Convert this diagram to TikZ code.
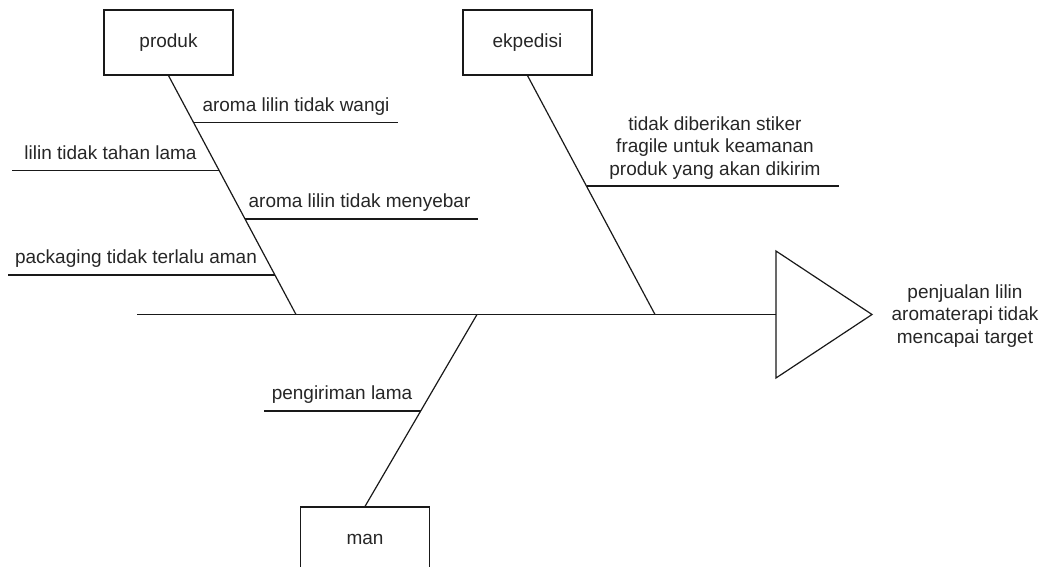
\documentclass[tikz,border=0pt]{standalone}
\usepackage{fontspec}
\setmainfont{Liberation Sans}
\begin{document}
\begin{tikzpicture}[x=1pt,y=-1pt,
  bone/.style={draw=black!90,line width=1.2pt},
  catbox/.style={draw=black!90,line width=1.2pt,minimum width=129pt,minimum height=65pt,inner sep=0pt,font=\fontsize{19}{22}\selectfont,text=black!85},
  cause/.style={font=\fontsize{19}{22}\selectfont,text=black!85,anchor=base,inner sep=0pt},
  multi/.style={font=\fontsize{19}{22.5}\selectfont,text=black!85,align=center,inner sep=0pt}]
\useasboundingbox (0,0) rectangle (1045,567);
% category boxes
\node[catbox] (produk) at (168.5,42.5) {produk};
\node[catbox] (ekpedisi) at (527.5,42.5) {ekpedisi};
\node[catbox] (man) at (365,539.5) {man};
% head triangle
\coordinate (tA) at (776,251);
\coordinate (tB) at (776,378);
\coordinate (tC) at (872,314.5);
\coordinate (head) at (776,314.5);
\draw[bone,line join=miter] (tA) -- (tC) -- (tB) -- cycle;
% spine
\coordinate (tail) at (137,314.5);
\draw[bone] (tail) -- (head);
% main bones
\coordinate (pJ) at (296,314.5);
\coordinate (eJ) at (655,314.5);
\coordinate (mJ) at (477,314.5);
\draw[bone] (produk.south) -- (pJ);
\draw[bone] (ekpedisi.south) -- (eJ);
\draw[bone] (mJ) -- (man.north);
% sub bones (produk)
\coordinate (p1a) at (194,122.7); \coordinate (p1b) at (398,122.7);
\coordinate (p2a) at (12,170.7);  \coordinate (p2b) at (219.4,170.7);
\coordinate (p3a) at (245.2,219); \coordinate (p3b) at (478,219);
\coordinate (p4a) at (8,275);     \coordinate (p4b) at (275,275);
\draw[bone] (p1a) -- (p1b);
\draw[bone] (p2a) -- (p2b);
\draw[bone] (p3a) -- (p3b);
\draw[bone] (p4a) -- (p4b);
\node[cause] (c1) at (296,111.2) {aroma lilin tidak wangi};
\node[cause] (c2) at (110.5,159.2) {lilin tidak tahan lama};
\node[cause] (c3) at (359.5,207.5) {aroma lilin tidak menyebar};
\node[cause] (c4) at (136,263.5) {packaging tidak terlalu aman};
% ekpedisi sub bone
\coordinate (e1a) at (586.6,186); \coordinate (e1b) at (839,186);
\draw[bone] (e1a) -- (e1b);
\node[multi] (c5) at (715,148) {tidak diberikan stiker\\fragile untuk keamanan\\produk yang akan dikirim};
% man sub bone
\coordinate (m1a) at (264,411); \coordinate (m1b) at (421,411);
\draw[bone] (m1a) -- (m1b);
\node[cause] (c6) at (342,399.5) {pengiriman lama};
% effect
\node[multi] (effect) at (965,316) {penjualan lilin\\aromaterapi tidak\\mencapai target};
\end{tikzpicture}
\end{document}
